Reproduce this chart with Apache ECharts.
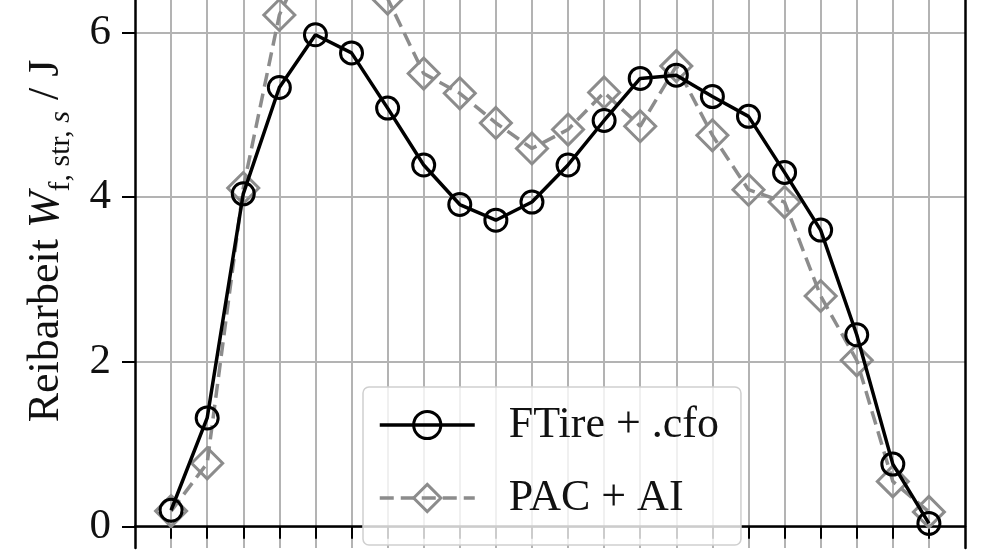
<!DOCTYPE html>
<html>
<head>
<meta charset="utf-8">
<script src="https://cdn.jsdelivr.net/npm/echarts@6/dist/echarts.min.js"></script>
<style>
html,body{margin:0;padding:0;background:#fff;}
#chart{width:992px;height:557px;}
</style>
</head>
<body>
<div id="chart"></div>
<script>
var xValues = [1, 2, 3, 4, 5, 6, 7, 8, 9, 10, 11, 12, 13, 14, 15, 16, 17, 18, 19, 20, 21, 22];
var ftire = [0.20, 1.32, 4.04, 5.33, 5.97, 5.75, 5.08, 4.39, 3.91, 3.72, 3.94, 4.39, 4.93, 5.44, 5.48, 5.22, 4.98, 4.30, 3.60, 2.33, 0.76, 0.04];
var pacai = [0.19, 0.77, 4.11, 6.21, 7.15, 6.95, 6.41, 5.50, 5.26, 4.90, 4.59, 4.82, 5.27, 4.86, 5.59, 4.75, 4.09, 3.94, 2.80, 2.02, 0.55, 0.18];
var yTicks = [0, 2, 4, 6];
var seriesNames = ['FTire + .cfo', 'PAC + AI'];

var SERIF = '"Liberation Serif", "DejaVu Serif", serif';
var GRAY = '#8c8c8c';
var GRID = '#b3b3b3';

function pairs(ys) { return xValues.map(function (x, i) { return [x, ys[i]]; }); }

var chart = echarts.init(document.getElementById('chart'), null, {renderer: 'canvas'});
chart.setOption({
  animation: false,
  backgroundColor: '#ffffff',
  grid: {left: 135, right: 27, top: 0, bottom: 9, containLabel: false},
  xAxis: {
    type: 'value', min: 0, max: 23,
    axisLine: {show: true, lineStyle: {color: '#000', width: 2.5}},
    axisTick: {show: true, inside: false, length: 12, customValues: xValues, lineStyle: {color: '#000', width: 2}},
    axisLabel: {show: false},
    splitLine: {show: true, lineStyle: {color: GRID, width: 2}}
  },
  yAxis: [{
    type: 'value', min: -0.258, max: 6.392, position: 'left',
    name: '{n|Reibarbeit }{it|W}{sub|f, str, }{subi|s}{n| / J}',
    nameLocation: 'middle', nameRotate: 90, nameGap: 64,
    nameTextStyle: {
      fontFamily: SERIF, fontSize: 44, color: '#111',
      padding: [0, 0, 0, 66],
      rich: {
        n: {fontFamily: SERIF, fontSize: 44, color: '#111', lineHeight: 50},
        it: {fontFamily: SERIF, fontSize: 44, fontStyle: 'italic', color: '#111', lineHeight: 50},
        sub: {fontFamily: SERIF, fontSize: 30, color: '#111', lineHeight: 30, padding: [30, 0, 0, 0]},
        subi: {fontFamily: SERIF, fontSize: 30, fontStyle: 'italic', color: '#111', lineHeight: 30, padding: [30, 0, 0, 0]}
      }
    },
    axisLine: {show: true, lineStyle: {color: '#000', width: 2.5}},
    axisTick: {show: true, inside: false, length: 13, customValues: yTicks, lineStyle: {color: '#000', width: 2}},
    axisLabel: {show: true, customValues: yTicks, margin: 24, fontFamily: SERIF, fontSize: 43, color: '#111',
      formatter: function (v) { return String(v); }},
    splitLine: {show: true, lineStyle: {color: GRID, width: 2}}
  }, {
    type: 'value', min: -0.258, max: 6.392, position: 'right',
    axisLine: {show: true, onZero: false, lineStyle: {color: '#000', width: 2.5}},
    axisTick: {show: false}, axisLabel: {show: false}, splitLine: {show: false}
  }],
  legend: {
    orient: 'vertical', left: 363, top: 387,
    data: seriesNames,
    itemWidth: 95, itemHeight: 34, itemGap: 29,
    padding: [16, 22, 25, 15],
    backgroundColor: 'rgba(255,255,255,0.8)',
    borderColor: '#cfcfcf', borderWidth: 1.5, borderRadius: 6,
    lineStyle: {width: 3.5},
    itemStyle: {borderWidth: 3},
    textStyle: {fontFamily: SERIF, fontSize: 44, color: '#111', lineHeight: 34, padding: [0, 0, 0, 29]},
    selectedMode: false
  },
  series: [{
    name: seriesNames[1], type: 'line', data: pairs(pacai), yAxisIndex: 0, clip: false,
    symbol: 'diamond', symbolSize: 31,
    lineStyle: {color: GRAY, width: 3.5, type: [14, 7]},
    itemStyle: {color: 'rgba(255,255,255,0)', borderColor: GRAY, borderWidth: 3},
    emphasis: {disabled: true}, z: 2
  }, {
    name: seriesNames[0], type: 'line', data: pairs(ftire), yAxisIndex: 0, clip: false,
    symbol: 'circle', symbolSize: 22,
    lineStyle: {color: '#000', width: 3.5},
    itemStyle: {color: 'rgba(255,255,255,0)', borderColor: '#000', borderWidth: 3},
    emphasis: {disabled: true}, z: 3
  }]
});
</script>
</body>
</html>
